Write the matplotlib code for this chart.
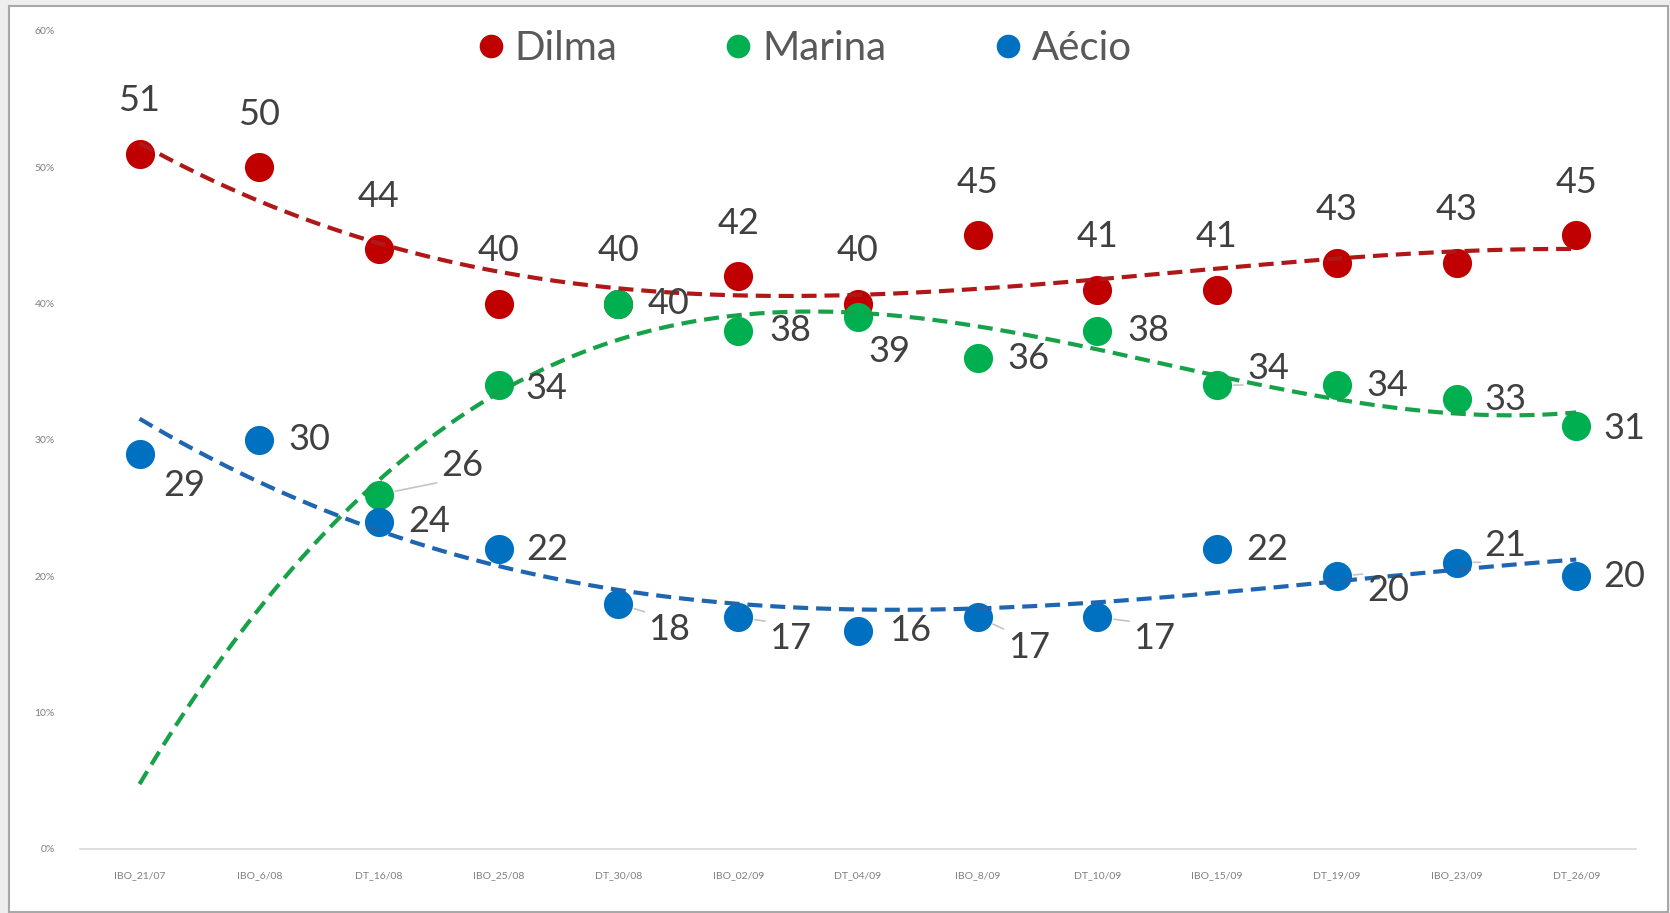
import numpy as np
from matplotlib import pyplot as plt
from matplotlib import ticker
from matplotlib.lines import Line2D
from matplotlib.patches import Rectangle

plt.rcParams['font.family'] = ['Lato', 'DejaVu Sans']

polls = ["IBO_21/07", "IBO_6/08", "DT_16/08", "IBO_25/08", "DT_30/08", "IBO_02/09",
         "DT_04/09", "IBO_8/09", "DT_10/09", "IBO_15/09", "DT_19/09", "IBO_23/09", "DT_26/09"]
dilma = [51, 50, 44, 40, 40, 42, 40, 45, 41, 41, 43, 43, 45]
marina = [None, None, 26, 34, 40, 38, 39, 36, 38, 34, 34, 33, 31]
aecio = [29, 30, 24, 22, 18, 17, 16, 17, 17, 22, 20, 21, 20]

# label offsets in pixels (dx, dy); labels in the leader sets get a thin connector
dilma_offsets = [(0, 53)] * 13
marina_offsets = [None, None, (83, 29), (48, -3), (50, 0), (52, 0), (32, -34), (51, 0),
                  (51, 0), (51, 17), (51, 0), (49, 0), (48, -2)]
marina_leader = {2, 9}
aecio_offsets = [(45, -32), (50, 0), (50, 0), (49, 0), (51, -26), (52, -21), (52, 0),
                 (51, -30), (57, -21), (50, 0), (51, -14), (49, 17), (48, 0)]
aecio_leader = {4, 5, 7, 8, 10, 11}

series = [
    ("Dilma", dilma, "#c00000", "#b01818", dilma_offsets, set()),
    ("Marina", marina, "#00b050", "#17a24a", marina_offsets, marina_leader),
    ("Aécio", aecio, "#0070c0", "#1f66b0", aecio_offsets, aecio_leader),
]

fig = plt.figure(figsize=(16.7, 9.13), dpi=100, facecolor="#eeeeee")
fig.patches.append(Rectangle((9 / 1670, 1 / 913), 1659 / 1670, 906 / 913,
                             transform=fig.transFigure, facecolor="white",
                             edgecolor="#a8a8a8", linewidth=1.5, zorder=-1))

ax = fig.add_axes([0.0477, 0.0701, 0.932, 0.896])
ax.set_facecolor("none")
x = np.arange(len(polls))
xs = np.linspace(0, len(polls) - 1, 300)

for name, vals, color, tcolor, offsets, leaders in series:
    idx = np.array([i for i, v in enumerate(vals) if v is not None])
    yv = np.array([vals[i] for i in idx], dtype=float)
    ax.scatter(idx, yv, s=440, color=color, zorder=3, linewidths=0)
    # cubic trendline over the whole range
    coef = np.polyfit(idx, yv, 3)
    ax.plot(xs, np.polyval(coef, xs), color=tcolor, lw=3.0,
            linestyle=(0, (3.6, 1.9)), zorder=4)
    for i, v in zip(idx, yv):
        dx, dy = offsets[i]
        arrow = None
        if i in leaders:
            corner = (0.0, 1.0) if dy < 0 else (0.0, 0.0)
            arrow = dict(arrowstyle="-", color="#c4c4c4", lw=1.2, shrinkA=1, shrinkB=12,
                         relpos=corner)
        ax.annotate(f"{v:.0f}", (i, v), xytext=(dx, dy), textcoords="offset pixels",
                    ha="center", va="center", fontsize=26, color="#404040",
                    arrowprops=arrow, zorder=5)

ax.set_xlim(-0.5, len(polls) - 0.5)
ax.set_ylim(0, 60)
ax.set_xticks(x)
ax.set_xticklabels(polls)
ax.set_yticks(np.arange(0, 61, 10))
ax.yaxis.set_major_formatter(ticker.FuncFormatter(lambda v, p: f"{v:.0f}%"))
ax.tick_params(axis="both", length=0, labelsize=7.5, labelcolor="#7f7f7f")
ax.tick_params(axis="x", pad=16)
ax.tick_params(axis="y", pad=18)
for side in ["top", "right", "left"]:
    ax.spines[side].set_visible(False)
ax.spines["bottom"].set_color("#d9d9d9")
ax.spines["bottom"].set_linewidth(1.2)

handles = [Line2D([], [], marker="o", linestyle="none", markersize=17,
                  markerfacecolor=c, markeredgewidth=0) for _, _, c, _, _, _ in series]
leg = fig.legend(handles, [s[0] for s in series], loc="center", bbox_to_anchor=(0.4785, 0.947),
                 ncol=3, frameon=False, fontsize=29, handletextpad=0.0,
                 columnspacing=2.4, handlelength=1.2)
for t in leg.get_texts():
    t.set_color("#595959")

fig.savefig("out.png", dpi=100, facecolor=fig.get_facecolor())
